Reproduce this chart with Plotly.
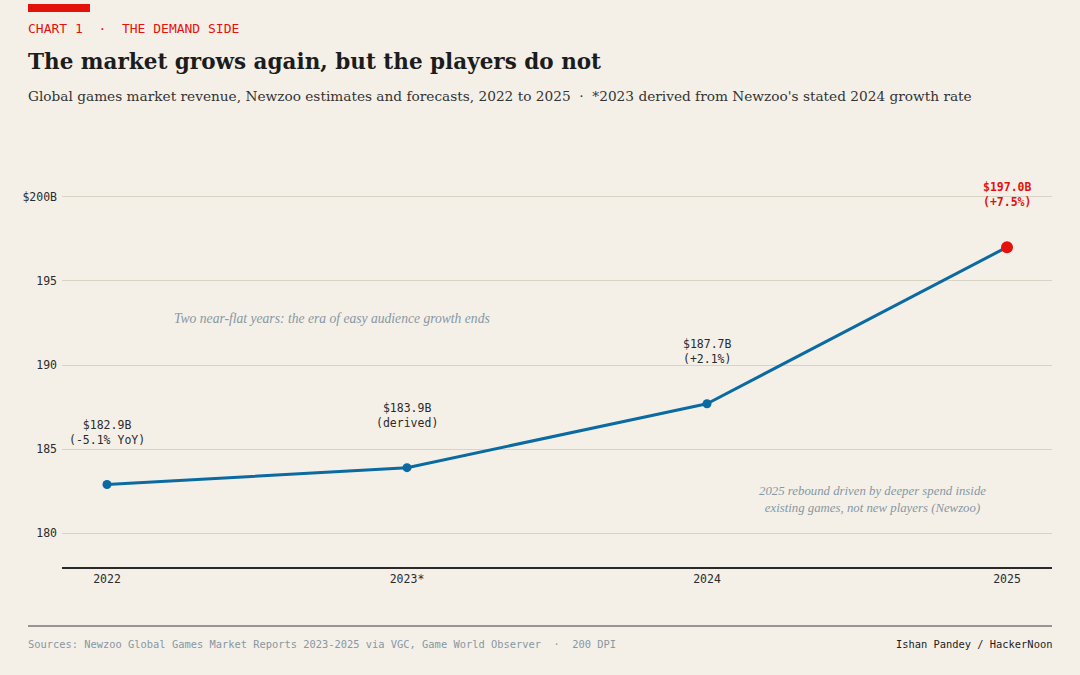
import plotly.graph_objects as go

years = ["2022", "2023*", "2024", "2025"]
revenue = [182.9, 183.9, 187.7, 197.0]
point_labels = ["$182.9B<br>(-5.1% YoY)", "$183.9B<br>(derived)", "$187.7B<br>(+2.1%)", "$197.0B<br>(+7.5%)"]
y_ticks = [180, 185, 190, 195, 200]
y_ticktext = ["180", "185", "190", "195", "$200B"]

BG = "#f4f0e8"
BLUE = "#0a6aa1"
RED = "#e3120b"
INK = "#1c1c1c"
MUTED = "#8797a3"
MONO = "DejaVu Sans Mono"
SERIF = "DejaVu Serif"
NOTE_SERIF = "Liberation Serif"

# plot area in pixels: x 62..1052, y 163..567
L, R, T, B = 62, 1052, 163, 567
def px(x):
    return (x - L) / (R - L)
def py(y):
    return (B - y) / (B - T)

fig = go.Figure()
fig.add_trace(go.Scatter(
    x=years[:-1], y=revenue[:-1], mode="lines+markers",
    line=dict(color=BLUE, width=3), marker=dict(color=BLUE, size=9),
    hoverinfo="skip", showlegend=False,
))
fig.add_trace(go.Scatter(
    x=years[-2:], y=revenue[-2:], mode="lines",
    line=dict(color=BLUE, width=3), hoverinfo="skip", showlegend=False,
))
fig.add_trace(go.Scatter(
    x=years[-1:], y=revenue[-1:], mode="markers",
    marker=dict(color=RED, size=12), hoverinfo="skip", showlegend=False,
))

# value labels (x given as category index so "2022" isn't read as a number)
for i, (v, lab) in enumerate(zip(revenue, point_labels)):
    last = i == len(years) - 1
    fig.add_annotation(
        x=i, y=v, text=f"<b>{lab}</b>" if last else lab, showarrow=False,
        xanchor="center", yanchor="bottom", yshift=36,
        font=dict(family=MONO, size=11.5, color=RED if last else "#2b2b2b"),
    )

# editorial notes
fig.add_annotation(xref="paper", yref="paper", x=px(332), y=py(318), xanchor="center", yanchor="middle",
                   text="<i>Two near-flat years: the era of easy audience growth ends</i>",
                   showarrow=False, font=dict(family=NOTE_SERIF, size=13.6, color=MUTED))
fig.add_annotation(xref="paper", yref="paper", x=px(872), y=py(499), xanchor="center", yanchor="middle",
                   text="<i>2025 rebound driven by deeper spend inside<br>existing games, not new players (Newzoo)</i>",
                   showarrow=False, font=dict(family=NOTE_SERIF, size=12.8, color=MUTED))

# header
fig.add_shape(type="rect", xref="paper", yref="paper", x0=px(28), x1=px(90), y0=py(12), y1=py(4),
              fillcolor=RED, line_width=0)
fig.add_annotation(xref="paper", yref="paper", x=px(26), y=py(29), xanchor="left", yanchor="middle",
                   text="CHART 1  ·  THE DEMAND SIDE", showarrow=False,
                   font=dict(family=MONO, size=13, color=RED))
fig.add_annotation(xref="paper", yref="paper", x=px(26), y=py(61), xanchor="left", yanchor="middle",
                   text="<b>The market grows again, but the players do not</b>", showarrow=False,
                   font=dict(family=SERIF, size=21.5, color=INK))
fig.add_annotation(xref="paper", yref="paper", x=px(26), y=py(96), xanchor="left", yanchor="middle",
                   text="Global games market revenue, Newzoo estimates and forecasts, 2022 to 2025  ·  *2023 derived from Newzoo's stated 2024 growth rate",
                   showarrow=False, font=dict(family=SERIF, size=13.7, color="#333333"))

# footer
fig.add_shape(type="line", xref="paper", yref="paper", x0=px(28), x1=1, y0=py(626), y1=py(626),
              line=dict(color="#3a3a3a", width=1.2))
fig.add_annotation(xref="paper", yref="paper", x=px(26), y=py(644), xanchor="left", yanchor="middle",
                   text="Sources: Newzoo Global Games Market Reports 2023-2025 via VGC, Game World Observer  ·  200 DPI",
                   showarrow=False, font=dict(family=MONO, size=10.4, color=MUTED))
fig.add_annotation(xref="paper", yref="paper", x=px(1054), y=py(644), xanchor="right", yanchor="middle",
                   text="Ishan Pandey / HackerNoon", showarrow=False,
                   font=dict(family=MONO, size=10.4, color=INK))

fig.update_xaxes(
    type="category", range=[-0.15, 3.15], showgrid=False, zeroline=False,
    showline=True, linecolor="#2a2a2a", linewidth=1.5, ticks="",
    tickfont=dict(family=MONO, size=11.5, color="#2b2b2b"),
)
fig.update_yaxes(
    range=[178, 202], tickvals=y_ticks, ticktext=y_ticktext, showgrid=True,
    gridcolor="#d9d3c5", gridwidth=1, zeroline=False, showline=False, ticks="",
    ticklabelstandoff=4,
    tickfont=dict(family=MONO, size=11.5, color="#2b2b2b"),
)
fig.update_layout(
    width=1080, height=675, paper_bgcolor=BG, plot_bgcolor=BG,
    margin=dict(l=L, r=1080 - R, t=T, b=675 - B),
    showlegend=False,
)

fig.write_html("out.html", config={"displayModeBar": False},
               post_script="document.body.style.margin='0';")
